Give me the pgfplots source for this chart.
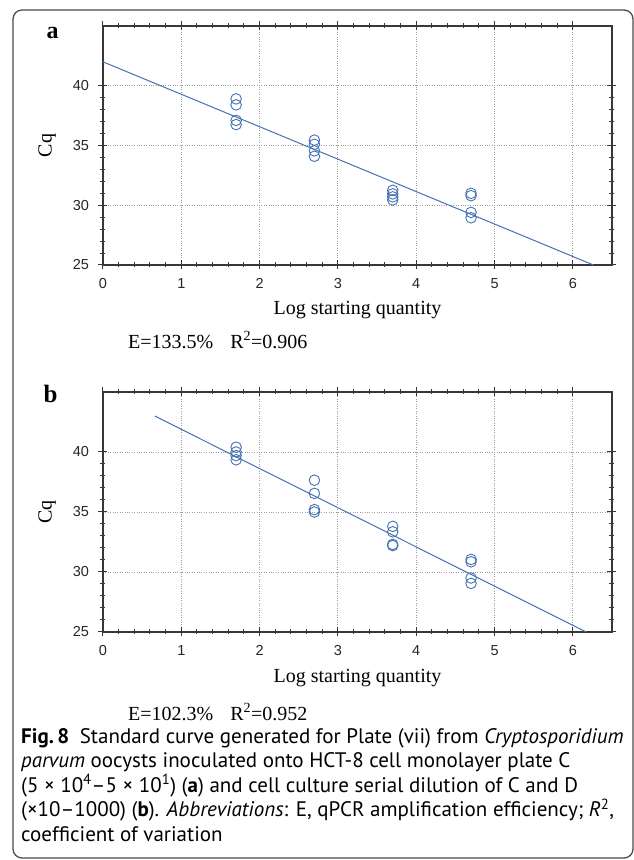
\documentclass[border=0pt]{standalone}
\usepackage{fontspec}
\setmainfont{Liberation Serif}
\newfontfamily\capfont{PT Sans}
\newfontfamily\tickfont{Liberation Sans}
\usepackage{pgfplots}
\pgfplotsset{compat=1.18}

\definecolor{cqblue}{RGB}{68,114,178}
\definecolor{axgray}{RGB}{55,55,55}

% shared look of both standard-curve panels
\pgfplotsset{qpcr/.style={
    scale only axis, width=509pt, height=239pt, anchor=south west,
    xmin=0, xmax=6.5, ymin=25, ymax=45,
    xtick={0,...,6}, ytick={25,30,35,40},
    minor x tick num=4, minor y tick num=4,
    tick align=center,
    major tick length=9pt, minor tick length=5pt,
    grid=major,
    major grid style={dotted, gray!75, line width=0.9pt},
    axis line style={axgray, line width=1.2pt},
    tick style={axgray, line width=1pt},
    /pgf/number format/assume math mode=true,
    tick label style={font=\tickfont\fontsize{14.5}{15}\selectfont, text=black!85},
    xticklabel style={yshift=-5pt},
    yticklabel style={xshift=-6pt},
    label style={font=\fontsize{20}{22}\selectfont},
    xlabel={Log starting quantity}, ylabel={Cq},
    x label style={at={(axis description cs:0.5,-0.19)}, anchor=center},
    y label style={at={(axis description cs:-0.110,0.5)}, anchor=center},
    clip=false,
}}

\begin{document}
\begin{tikzpicture}
\path[use as bounding box] (0,0) rectangle (634pt,860pt);
\draw[gray!60!black, line width=1.3pt, rounded corners=9pt] (13pt,2pt) rectangle (633pt,850pt);

% panel a
\begin{axis}[qpcr, at={(103pt,595pt)}]
\addplot[only marks, mark=o, mark size=5.3pt, cqblue, line width=0.9pt] coordinates {
    (1.7,38.9) (1.7,38.4) (1.7,37.1) (1.7,36.75)
    (2.7,35.45) (2.7,35.1) (2.7,34.55) (2.7,34.1)
    (3.7,31.25) (3.7,30.95) (3.7,30.7) (3.7,30.45)
    (4.7,31.0) (4.7,30.8) (4.7,29.4) (4.7,28.95)
};
\addplot[cqblue, line width=1pt] coordinates {(0,42.0) (6.263,25)};
\end{axis}

% panel b
\begin{axis}[qpcr, height=240pt, at={(103pt,228pt)}]
\addplot[only marks, mark=o, mark size=5.3pt, cqblue, line width=0.9pt] coordinates {
    (1.7,40.4) (1.7,40.0) (1.7,39.7) (1.7,39.35)
    (2.7,37.65) (2.7,36.55) (2.7,35.2) (2.7,35.0)
    (3.7,33.8) (3.7,33.35) (3.7,32.3) (3.7,32.2)
    (4.7,31.05) (4.7,30.85) (4.7,29.5) (4.7,29.05)
};
\addplot[cqblue, line width=1pt] coordinates {(0.66,43.0) (6.17,25)};
\end{axis}

\node[font=\bfseries\fontsize{24}{26}\selectfont] at (52.5pt,827pt) {a};
\node[font=\bfseries\fontsize{25}{27}\selectfont] at (50.5pt,466pt) {b};

\node[anchor=west, inner sep=0pt, font=\fontsize{20}{22}\selectfont] at (128pt,520pt)
    {E=133.5\%\hspace{17pt}R\textsuperscript{2}=0.906};
\node[anchor=west, inner sep=0pt, font=\fontsize{20}{22}\selectfont] at (128pt,148pt)
    {E=102.3\%\hspace{17pt}R\textsuperscript{2}=0.952};

\node[anchor=north west, inner sep=0pt, align=left,
      font=\capfont\fontsize{21}{24.5}\selectfont] at (21pt,132pt) {%
    \textbf{Fig.\,8}\hspace{0.5em}Standard curve generated for Plate (vii) from \textit{Cryptosporidium}\\
    \textit{parvum} oocysts inoculated onto HCT-8 cell monolayer plate C\\
    (5 × 10\textsuperscript{4}–5 × 10\textsuperscript{1}) (\textbf{a}) and cell culture serial dilution of C and D\\
    (×10–1000) (\textbf{b}). \textit{Abbreviations}: E, qPCR amplification efficiency; \textit{R}\textsuperscript{2},\\
    coefficient of variation};
\end{tikzpicture}
\end{document}
